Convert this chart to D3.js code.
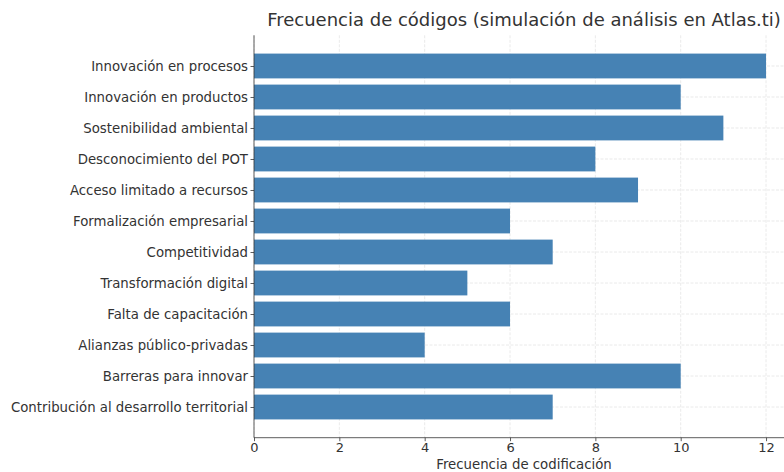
<!DOCTYPE html>
<html><head><meta charset="utf-8">
<script src="https://cdn.jsdelivr.net/npm/d3@7"></script>
<style>body{margin:0;background:#fff}svg{display:block}</style>
</head><body>
<svg id="c" width="784" height="472"></svg>
<script>
const categories = ["Innovación en procesos","Innovación en productos","Sostenibilidad ambiental","Desconocimiento del POT","Acceso limitado a recursos","Formalización empresarial","Competitividad","Transformación digital","Falta de capacitación","Alianzas público-privadas","Barreras para innovar","Contribución al desarrollo territorial"];
const values = [12,10,11,8,9,6,7,5,6,4,10,7];
const xTicks = [0,2,4,6,8,10,12];
const title = "Frecuencia de códigos (simulación de análisis en Atlas.ti)";
const xLabel = "Frecuencia de codificación";

(function(){
const svg = d3.select("#c");
const font = "DejaVu Sans, sans-serif";
const pLeft = 254, pBottom = 437.7, pTop = 35.3;
const x = d3.scaleLinear().domain([0, 12.6]).range([pLeft, pLeft + 12.6*42.67]);
const y = d3.scaleLinear().domain([-0.99, 11.99]).range([pTop, pBottom]);
const idx = categories.map((d,i)=>i);
const barH = y(0.4) - y(-0.4);

svg.append("g").selectAll("line").data(xTicks).join("line")
  .attr("x1", d=>x(d)).attr("x2", d=>x(d)).attr("y1", pTop).attr("y2", pBottom)
  .attr("stroke", "#e4e4e4").attr("stroke-width", 0.8).attr("stroke-dasharray","3,1.5");
svg.append("g").selectAll("line").data(idx).join("line")
  .attr("x1", pLeft).attr("x2", 784).attr("y1", d=>y(d)).attr("y2", d=>y(d))
  .attr("stroke", "#e4e4e4").attr("stroke-width", 0.8).attr("stroke-dasharray","3,1.5");

svg.append("g").selectAll("rect").data(values).join("rect")
  .attr("x", x(0)).attr("y", (d,i)=>y(i)-barH/2)
  .attr("width", d=>x(d)-x(0)).attr("height", barH)
  .attr("fill", "#4682b4");

const ax = svg.append("g").attr("transform", `translate(0,${pBottom})`)
  .call(d3.axisBottom(x).tickValues(xTicks).tickSize(3.5).tickPadding(1.5));
const ay = svg.append("g").attr("transform", `translate(${pLeft},0)`)
  .call(d3.axisLeft(y).tickValues(idx).tickFormat(i=>categories[i]).tickSize(3.5).tickPadding(2.5));
[ax, ay].forEach(g=>{
  g.selectAll("text").attr("font-family", font).attr("font-size", 13.3).attr("fill", "#333");
  g.selectAll("line").attr("stroke", "#333").attr("stroke-width", 0.8);
  g.select(".domain").attr("stroke", "#333").attr("stroke-width", 0.8);
});
ax.selectAll("text").attr("font-size", 13);
ax.select(".domain").attr("d", `M${pLeft},0H784`);
ay.select(".domain").attr("d", `M0,${pTop}V${pBottom}`);

svg.append("text").attr("x", 524).attr("y", 25.5).attr("text-anchor","middle")
  .attr("font-family", font).attr("font-size", 18).attr("fill", "#333").text(title);
svg.append("text").attr("x", 524).attr("y", 468.5).attr("text-anchor","middle")
  .attr("font-family", font).attr("font-size", 13.3).attr("fill", "#333").text(xLabel);
})();
</script>
</body></html>
